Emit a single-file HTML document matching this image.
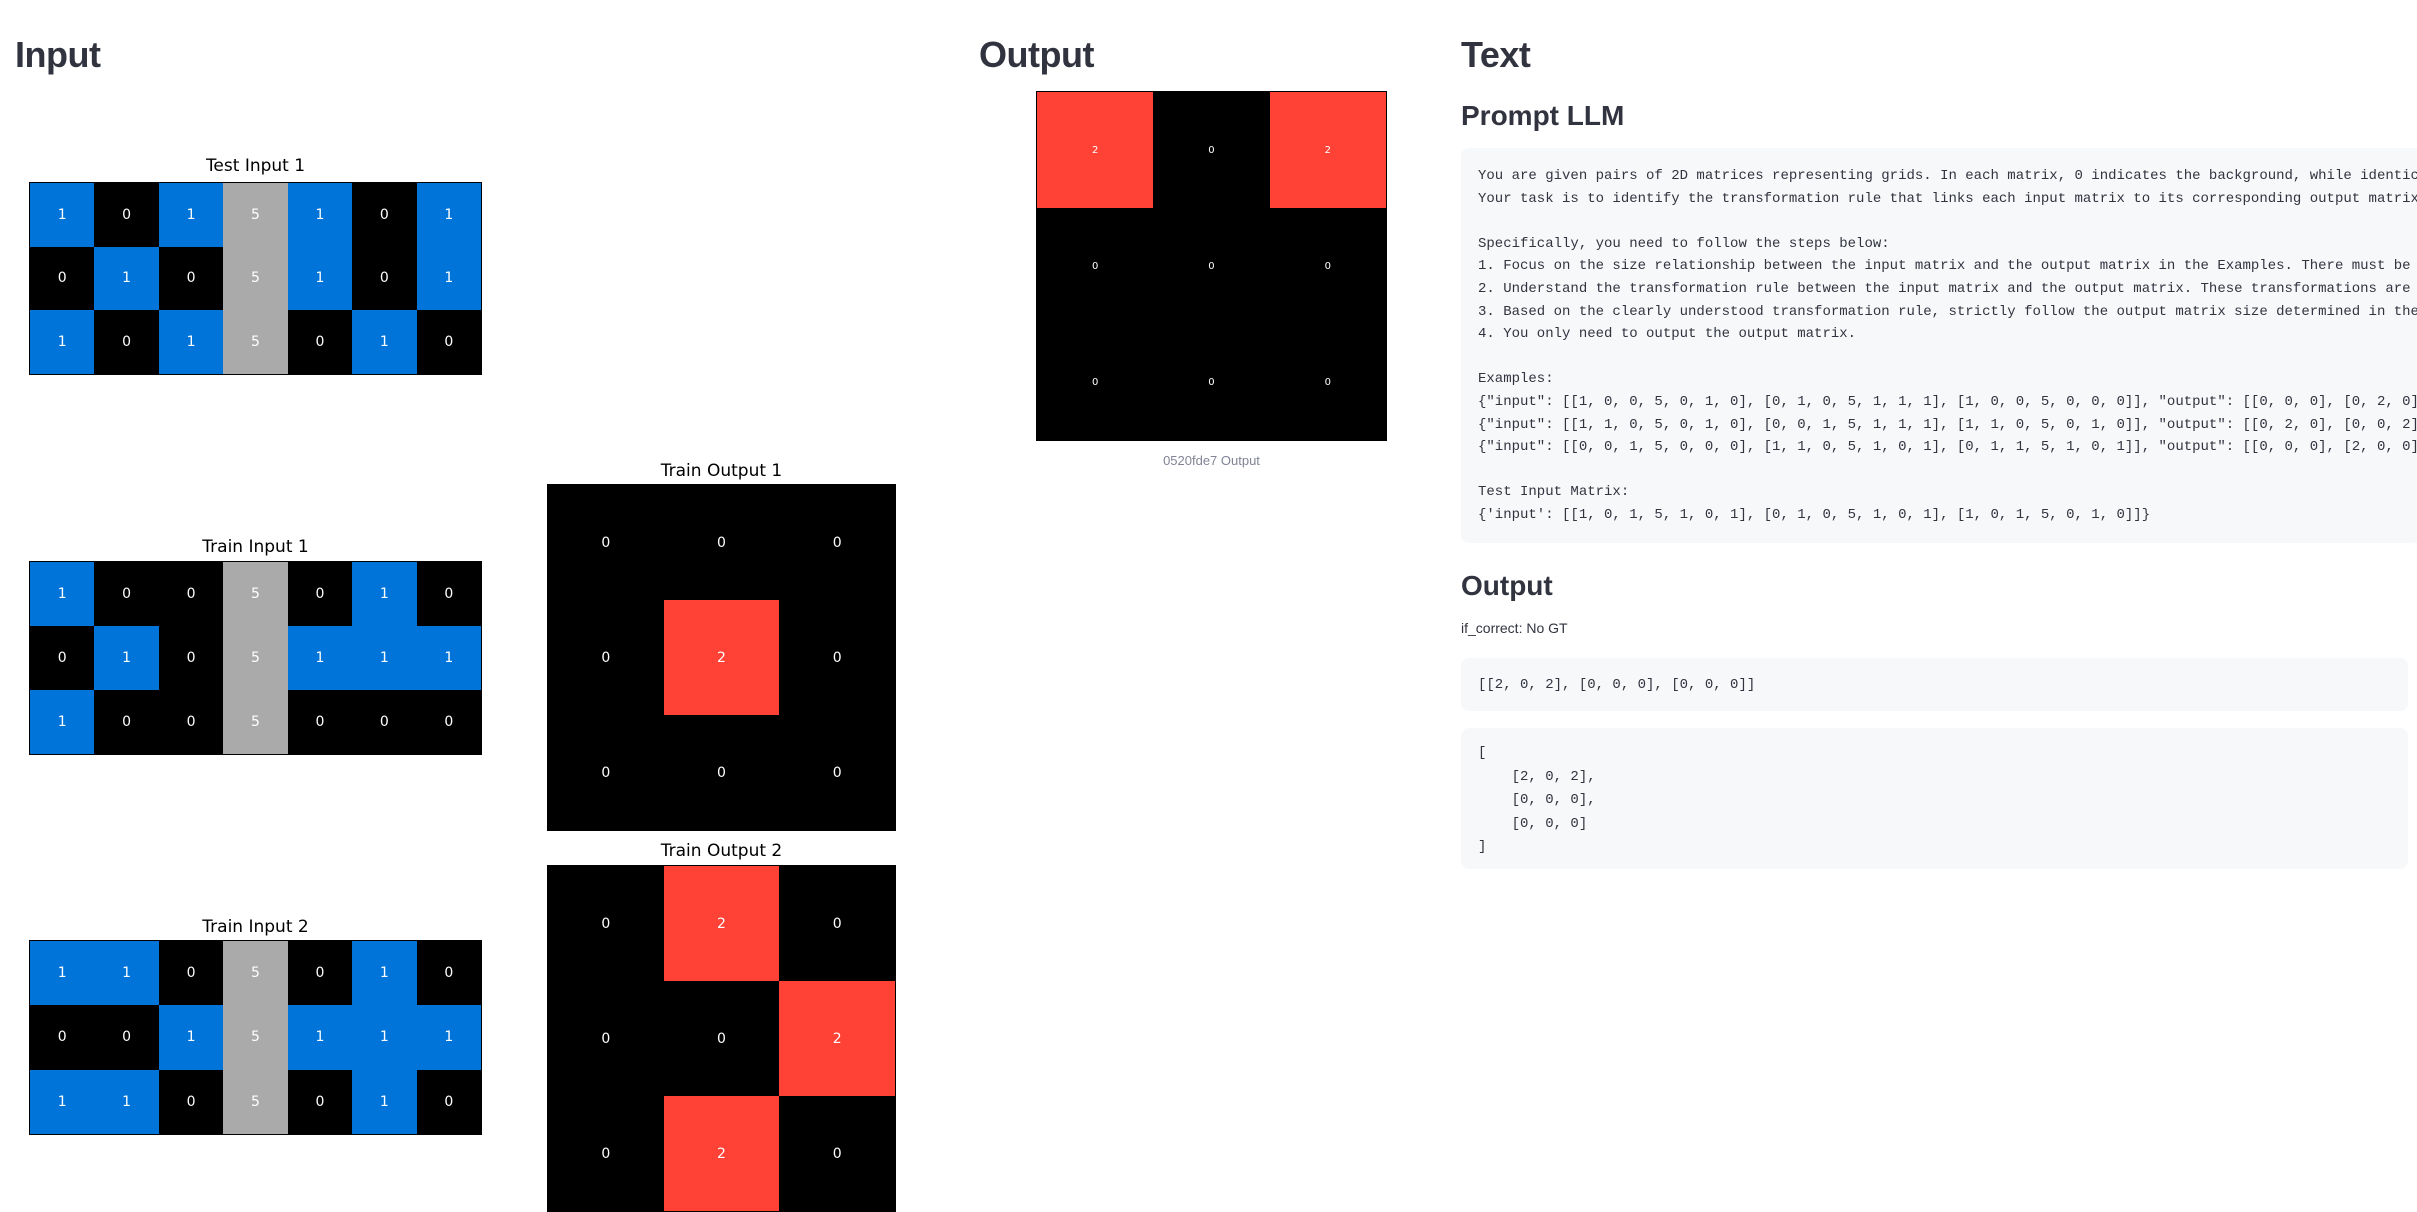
<!DOCTYPE html>
<html><head><meta charset="utf-8"><style>
body{margin:0;width:2417px;height:1186px;overflow:hidden;background:#fff;font-family:"Liberation Sans","DejaVu Sans",sans-serif;position:relative;color:#31333F}
.h{position:absolute;font-weight:700;font-size:36px;line-height:1;letter-spacing:-0.5px}
.h2{position:absolute;font-weight:700;font-size:28px;line-height:1}
.t{position:absolute;font-size:17px;color:#000;text-align:center;font-family:"DejaVu Sans",sans-serif}
.g{position:absolute;display:grid;border:1px solid #000;box-sizing:border-box}
.g div{display:flex;align-items:center;justify-content:center;color:#fff;font-family:"DejaVu Sans",sans-serif;font-size:14px}
.b{background:#0074D9}.k{background:#000}.s{background:#AAAAAA}.r{background:#FF4136}
.code{position:absolute;background:#F7F8FA;border-radius:8px;font-family:"Liberation Mono","DejaVu Sans Mono",monospace;font-size:14px;color:#31333F;white-space:pre;overflow:hidden;box-sizing:border-box}
</style></head><body>
<div class="h" style="left:15px;top:37px">Input</div>
<div class="h" style="left:979px;top:37px">Output</div>
<div class="h" style="left:1461px;top:37px">Text</div>

<div class="t" style="left:29px;width:453px;top:156px">Test Input 1</div>
<div class="g" style="left:29px;top:182px;width:453px;height:193px;grid-template-columns:repeat(7,1fr);grid-template-rows:repeat(3,1fr)">
<div class="b">1</div><div class="k">0</div><div class="b">1</div><div class="s">5</div><div class="b">1</div><div class="k">0</div><div class="b">1</div>
<div class="k">0</div><div class="b">1</div><div class="k">0</div><div class="s">5</div><div class="b">1</div><div class="k">0</div><div class="b">1</div>
<div class="b">1</div><div class="k">0</div><div class="b">1</div><div class="s">5</div><div class="k">0</div><div class="b">1</div><div class="k">0</div>
</div>

<div class="t" style="left:29px;width:453px;top:537px">Train Input 1</div>
<div class="g" style="left:29px;top:561px;width:453px;height:194px;grid-template-columns:repeat(7,1fr);grid-template-rows:repeat(3,1fr)">
<div class="b">1</div><div class="k">0</div><div class="k">0</div><div class="s">5</div><div class="k">0</div><div class="b">1</div><div class="k">0</div>
<div class="k">0</div><div class="b">1</div><div class="k">0</div><div class="s">5</div><div class="b">1</div><div class="b">1</div><div class="b">1</div>
<div class="b">1</div><div class="k">0</div><div class="k">0</div><div class="s">5</div><div class="k">0</div><div class="k">0</div><div class="k">0</div>
</div>

<div class="t" style="left:29px;width:453px;top:917px">Train Input 2</div>
<div class="g" style="left:29px;top:940px;width:453px;height:195px;grid-template-columns:repeat(7,1fr);grid-template-rows:repeat(3,1fr)">
<div class="b">1</div><div class="b">1</div><div class="k">0</div><div class="s">5</div><div class="k">0</div><div class="b">1</div><div class="k">0</div>
<div class="k">0</div><div class="k">0</div><div class="b">1</div><div class="s">5</div><div class="b">1</div><div class="b">1</div><div class="b">1</div>
<div class="b">1</div><div class="b">1</div><div class="k">0</div><div class="s">5</div><div class="k">0</div><div class="b">1</div><div class="k">0</div>
</div>

<div class="t" style="left:547px;width:349px;top:461px">Train Output 1</div>
<div class="g" style="left:547px;top:484px;width:349px;height:347px;grid-template-columns:repeat(3,1fr);grid-template-rows:repeat(3,1fr)">
<div class="k">0</div><div class="k">0</div><div class="k">0</div>
<div class="k">0</div><div class="r">2</div><div class="k">0</div>
<div class="k">0</div><div class="k">0</div><div class="k">0</div>
</div>

<div class="t" style="left:547px;width:349px;top:841px">Train Output 2</div>
<div class="g" style="left:547px;top:865px;width:349px;height:347px;grid-template-columns:repeat(3,1fr);grid-template-rows:repeat(3,1fr)">
<div class="k">0</div><div class="r">2</div><div class="k">0</div>
<div class="k">0</div><div class="k">0</div><div class="r">2</div>
<div class="k">0</div><div class="r">2</div><div class="k">0</div>
</div>

<div class="g" style="left:1036px;top:91px;width:351px;height:350px;grid-template-columns:repeat(3,1fr);grid-template-rows:repeat(3,1fr)">
<div class="r" style="font-size:10px">2</div><div class="k" style="font-size:10px">0</div><div class="r" style="font-size:10px">2</div>
<div class="k" style="font-size:10px">0</div><div class="k" style="font-size:10px">0</div><div class="k" style="font-size:10px">0</div>
<div class="k" style="font-size:10px">0</div><div class="k" style="font-size:10px">0</div><div class="k" style="font-size:10px">0</div>
</div>
<div style="position:absolute;left:1036px;width:351px;top:453px;text-align:center;font-size:13px;color:#808495">0520fde7 Output</div>

<div class="h2" style="left:1461px;top:102px">Prompt LLM</div>
<div class="code" style="left:1461px;top:148px;width:960px;height:395px;padding:17px 0 0 17px;line-height:22.6px;font-size:14px">You are given pairs of 2D matrices representing grids. In each matrix, 0 indicates the background, while identical numbers represent the same object.
Your task is to identify the transformation rule that links each input matrix to its corresponding output matrix.

Specifically, you need to follow the steps below:
1. Focus on the size relationship between the input matrix and the output matrix in the Examples. There must be a consistent rule.
2. Understand the transformation rule between the input matrix and the output matrix. These transformations are consistent.
3. Based on the clearly understood transformation rule, strictly follow the output matrix size determined in the first step.
4. You only need to output the output matrix.

Examples:
{"input": [[1, 0, 0, 5, 0, 1, 0], [0, 1, 0, 5, 1, 1, 1], [1, 0, 0, 5, 0, 0, 0]], "output": [[0, 0, 0], [0, 2, 0], [0, 0, 0]]}
{"input": [[1, 1, 0, 5, 0, 1, 0], [0, 0, 1, 5, 1, 1, 1], [1, 1, 0, 5, 0, 1, 0]], "output": [[0, 2, 0], [0, 0, 2], [0, 2, 0]]}
{"input": [[0, 0, 1, 5, 0, 0, 0], [1, 1, 0, 5, 1, 0, 1], [0, 1, 1, 5, 1, 0, 1]], "output": [[0, 0, 0], [2, 0, 0], [0, 0, 2]]}

Test Input Matrix:
{'input': [[1, 0, 1, 5, 1, 0, 1], [0, 1, 0, 5, 1, 0, 1], [1, 0, 1, 5, 0, 1, 0]]}</div>

<div class="h2" style="left:1461px;top:572px">Output</div>
<div style="position:absolute;left:1461px;top:620px;font-size:14px;color:#31333F">if_correct: No GT</div>
<div class="code" style="left:1461px;top:658px;width:947px;height:53px;padding:15px 0 0 17px;line-height:24px">[[2, 0, 2], [0, 0, 0], [0, 0, 0]]</div>
<div class="code" style="left:1461px;top:728px;width:947px;height:141px;padding:14px 0 0 17px;line-height:23.5px">[
    [2, 0, 2],
    [0, 0, 0],
    [0, 0, 0]
]</div>
</body></html>
